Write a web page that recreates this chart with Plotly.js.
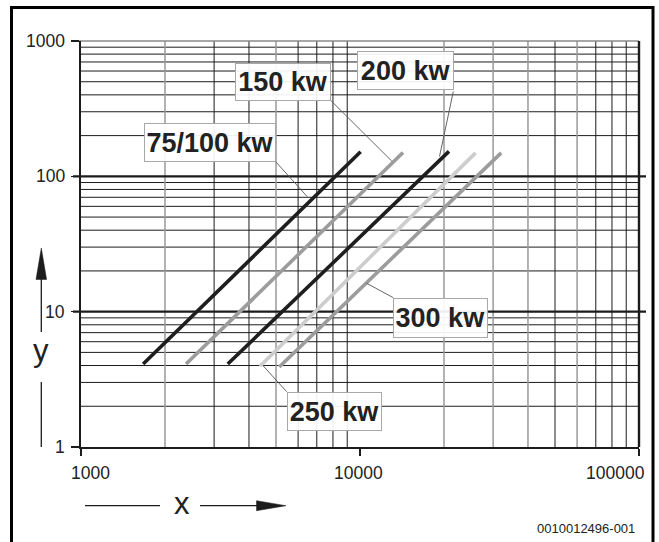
<!DOCTYPE html>
<html><head><meta charset="utf-8">
<script src="https://cdn.plot.ly/plotly-3.0.1.min.js"></script>
<style>html,body{margin:0;padding:0;background:#fff}#chart{width:659px;height:542px}</style>
</head><body><div id="chart"></div>
<script>
// ---------- data ----------
const seriesNames = ['75/100 kw', '150 kw', '200 kw', '250 kw', '300 kw'];
const x75 = [1670, 10050];   const y75 = [4.1, 152];
const x150 = [2380, 14260];  const y150 = [4.1, 150];
const x200 = [3357, 20840];  const y200 = [4.1, 153];
const x250 = [4380, 25950];  const y250 = [3.95, 149];
const x300 = [5135, 32060];  const y300 = [3.9, 149];

const xTickVals = [1000, 10000, 100000];
const xTickText = ['1000', '10000', '100000'];
const yTickVals = [1, 10, 100, 1000];
const yTickText = ['1', '10', '100', '1000'];

const gridXBlack = [3000, 4000, 6000, 7000, 8000, 9000, 50000, 70000, 80000, 90000];
const gridXGray = [2000, 5000, 20000, 30000, 40000, 60000];
const gridYThin = [2, 3, 4, 5, 6, 7, 8, 9, 20, 30, 40, 50, 60, 70, 80, 90, 200, 300, 400, 500, 600, 700, 800, 900];
const gridYMajor = [10, 100];
const gridYTop = [1000];

// ---------- geometry helpers ----------
const L = 81, T = 41, PW = 558, PH = 406;
const pxX = p => (p - L) / PW;
const pxY = p => (T + PH - p) / PH;
const dX = v => (Math.log10(v) - 3) / 2;   // x range 1e3..1e5
const dY = v => Math.log10(v) / 3;         // y range 1..1e3

const FONT = 'Liberation Sans, Arial, Helvetica, sans-serif';
const INK = '#1c1c1c';

const shapes = [];
gridYThin.forEach(v => shapes.push({type:'line', xref:'paper', yref:'paper', x0:0, x1:1, y0:dY(v), y1:dY(v), line:{color:INK, width:1}, layer:'below'}));
gridXBlack.forEach(v => shapes.push({type:'line', xref:'paper', yref:'paper', x0:dX(v), x1:dX(v), y0:0, y1:1, line:{color:INK, width:1}, layer:'below'}));
gridXGray.forEach(v => shapes.push({type:'line', xref:'paper', yref:'paper', x0:dX(v), x1:dX(v), y0:0, y1:1, line:{color:'#9a9a9a', width:1.5}, layer:'below'}));
gridYMajor.forEach(v => shapes.push({type:'line', xref:'paper', yref:'paper', x0:pxX(73), x1:pxX(646), y0:dY(v), y1:dY(v), line:{color:INK, width:2.2}, layer:'below'}));
gridYTop.forEach(v => shapes.push({type:'line', xref:'paper', yref:'paper', x0:pxX(73), x1:1, y0:dY(v), y1:dY(v), line:{color:'#8a8a8a', width:1.6}, layer:'below'}));
// right frame of the plot
shapes.push({type:'line', xref:'paper', yref:'paper', x0:1, x1:1, y0:0, y1:1, line:{color:INK, width:2.4}});
// outer border
shapes.push({type:'rect', xref:'paper', yref:'paper', x0:pxX(11.5), x1:pxX(653), y0:pxY(560), y1:pxY(7.5), line:{color:'#000', width:3}});
// y arrow
shapes.push({type:'line', xref:'paper', yref:'paper', x0:pxX(41.3), x1:pxX(41.3), y0:pxY(279), y1:pxY(332), line:{color:INK, width:1.3}});
shapes.push({type:'line', xref:'paper', yref:'paper', x0:pxX(41.3), x1:pxX(41.3), y0:pxY(382), y1:pxY(447), line:{color:INK, width:1.3}});
shapes.push({type:'path', xref:'paper', yref:'paper',
  path:`M ${pxX(41.3)} ${pxY(248)} L ${pxX(36)} ${pxY(279.5)} L ${pxX(46.6)} ${pxY(279.5)} Z`,
  fillcolor:INK, line:{color:INK, width:0.5}});
// x arrow
shapes.push({type:'line', xref:'paper', yref:'paper', x0:pxX(85), x1:pxX(160), y0:pxY(505.7), y1:pxY(505.7), line:{color:INK, width:1.3}});
shapes.push({type:'line', xref:'paper', yref:'paper', x0:pxX(200), x1:pxX(258), y0:pxY(505.7), y1:pxY(505.7), line:{color:INK, width:1.3}});
shapes.push({type:'path', xref:'paper', yref:'paper',
  path:`M ${pxX(286)} ${pxY(505.7)} L ${pxX(256.5)} ${pxY(500.7)} L ${pxX(256.5)} ${pxY(510.7)} Z`,
  fillcolor:INK, line:{color:INK, width:0.5}});

// label boxes (pixel boxes) and leader lines
const labelBoxes = [
  {t:'75/100 kw', x0:144, y0:123, x1:276, y1:162, lead:[276,162,307.3,196.7]},
  {t:'150 kw',    x0:235, y0:62.7, x1:331, y1:100.7, lead:[331,100.7,391.7,161]},
  {t:'200 kw',    x0:356.7, y0:50.7, x1:454, y1:90, lead:[453.3,91.5,439.5,156.5]},
  {t:'250 kw',    x0:286.7, y0:391.7, x1:381.7, y1:430.7, lead:[263.3,366,286.7,391.7]},
  {t:'300 kw',    x0:393.3, y0:297.7, x1:488, y1:337.3, lead:[366.7,283.3,393.3,297.7]}
];
labelBoxes.forEach(b => shapes.push({type:'line', xref:'paper', yref:'paper',
  x0:pxX(b.lead[0]), y0:pxY(b.lead[1]), x1:pxX(b.lead[2]), y1:pxY(b.lead[3]),
  line:{color:'#555', width:0.9}}));

const annotations = [];
labelBoxes.forEach(b => annotations.push({
  xref:'paper', yref:'paper', x:pxX((b.x0+b.x1)/2), y:pxY((b.y0+b.y1)/2),
  xanchor:'center', yanchor:'middle', showarrow:false,
  text:'<b>'+b.t+'</b>', font:{family:FONT, size:27, color:'#222'},
  width:(b.x1-b.x0)-2, height:(b.y1-b.y0)-2, borderpad:0,
  bordercolor:'#a8a8a8', borderwidth:1, bgcolor:'rgba(255,255,255,0.92)'
}));
// y tick labels
yTickVals.forEach((v,i) => annotations.push({
  xref:'paper', yref:'paper', x:pxX(67), y:dY(v), xanchor:'right', yanchor:'middle',
  showarrow:false, text:yTickText[i], font:{family:FONT, size:17.5, color:'#222'}
}));
// x tick labels (edge labels pulled inward as in the reference)
const xLabelShift = [9, -2, -24];
xTickVals.forEach((v,i) => annotations.push({
  xref:'paper', yref:'paper', x:dX(v), y:pxY(473), xanchor:'center', yanchor:'middle',
  xshift:xLabelShift[i], showarrow:false, text:xTickText[i], font:{family:FONT, size:17.5, color:'#222'}
}));
// axis symbols
annotations.push({xref:'paper', yref:'paper', x:pxX(41), y:pxY(350), xanchor:'center', yanchor:'middle',
  showarrow:false, text:'y', font:{family:FONT, size:31, color:'#222'}});
annotations.push({xref:'paper', yref:'paper', x:pxX(182), y:pxY(503), xanchor:'center', yanchor:'middle',
  showarrow:false, text:'x', font:{family:FONT, size:31, color:'#222'}});
annotations.push({xref:'paper', yref:'paper', x:pxX(637), y:pxY(528), xanchor:'right', yanchor:'middle',
  showarrow:false, text:'0010012496-001', font:{family:FONT, size:13, color:'#222'}});

const seriesX = [x75, x150, x200, x250, x300];
const seriesY = [y75, y150, y200, y250, y300];
const seriesColors = ['#1e1e1e', '#9c9c9c', '#1e1e1e', '#cdcdcd', '#9c9c9c'];
const traces = seriesNames.map((n,i) => ({
  type:'scatter', mode:'lines', name:n, x:seriesX[i], y:seriesY[i],
  line:{color:seriesColors[i], width:3.6}, hoverinfo:'skip'
}));

const layout = {
  width:659, height:542,
  margin:{l:L, r:659-L-PW, t:T, b:542-T-PH, pad:0},
  paper_bgcolor:'#fff', plot_bgcolor:'#fff',
  showlegend:false,
  font:{family:FONT, color:'#222'},
  xaxis:{type:'log', range:[3,5], showgrid:false, zeroline:false, showline:true, linecolor:INK, linewidth:2,
    ticks:'outside', tickvals:xTickVals, ticklen:7, tickwidth:1.6, tickcolor:INK, showticklabels:false, fixedrange:true},
  yaxis:{type:'log', range:[0,3], showgrid:false, zeroline:false, showline:true, linecolor:INK, linewidth:2.4,
    ticks:'outside', tickvals:yTickVals, ticklen:8, tickwidth:1.6, tickcolor:INK, showticklabels:false, fixedrange:true},
  shapes:shapes, annotations:annotations
};
Plotly.newPlot('chart', traces, layout, {staticPlot:true, displayModeBar:false});
</script></body></html>
